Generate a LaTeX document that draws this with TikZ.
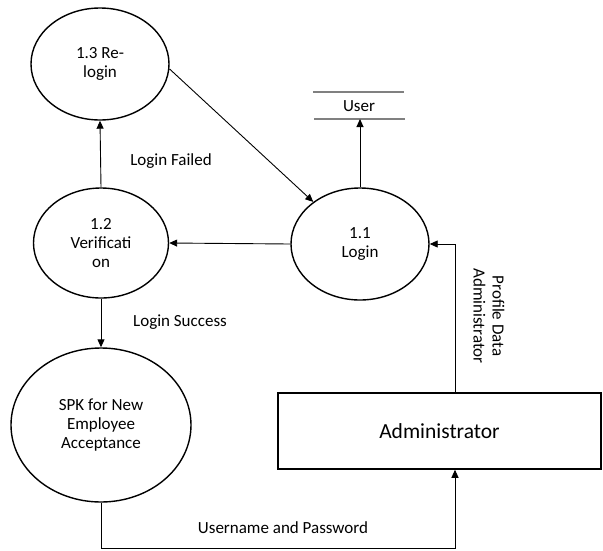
\documentclass[tikz,border=0pt]{standalone}
\usepackage{fontspec}
\setmainfont{Carlito}
\usetikzlibrary{shapes.geometric,arrows.meta}
\begin{document}
\begin{tikzpicture}[x=1pt,y=-1pt,
  proc/.style={ellipse,draw,line width=1.4pt,inner sep=0pt,align=center,font=\fontsize{17}{19}\selectfont},
  lbl/.style={font=\fontsize{17}{19}\selectfont},
  arr/.style={line width=0.9pt,-{Triangle[length=8pt,width=7pt]}},
  store/.style={draw=gray,line width=1.2pt}]
\useasboundingbox (0,0) rectangle (603,550);
\node[proc,minimum width=138pt,minimum height=112pt] (relogin) at (100,64) {1.3 Re-\\login};
\node[proc,minimum width=135pt,minimum height=110pt] (verif) at (101,243) {1.2\\Verificati\\on};
\node[proc,minimum width=138pt,minimum height=112pt] (login) at (360,244) {1.1\\Login};
\node[proc,minimum width=180pt,minimum height=154pt] (spk) at (101,425) {SPK for New\\Employee\\Acceptance};
\node[lbl] (user) at (359,106) {User};
\draw[store] (313,92) -- (404,92);
\draw[store] (314,119) -- (405,119);
\coordinate (userb) at (360,119);
\node[draw,line width=1.5pt,minimum width=323pt,minimum height=76pt,inner sep=0pt,font=\fontsize{21.5}{25}\selectfont] (admin) at (439.5,431) {Administrator};
\coordinate (pdx) at (455,0);
\coordinate (ub) at (101,548);
\node[lbl] (lf) at (171,161) {Login Failed};
\node[lbl] (ls) at (180,322) {Login Success};
\node[lbl] (up) at (283,528) {Username and Password};
\node[lbl,rotate=-90,align=center] (pd) at (489,316) {Profile Data\\Administrator};
\draw[arr] (verif.north) -- (relogin.south);
\draw[arr] (relogin.-4) -- (login.138);
\draw[arr] (login.west) -- (verif.east);
\draw[arr] (login.north) -- (userb);
\draw[arr] (verif.south) -- (spk.north);
\draw[arr] (pdx |- admin.north) |- (login.east);
\draw[arr] (spk.south) -- (ub) -| (pdx |- admin.south);
\end{tikzpicture}
\end{document}
